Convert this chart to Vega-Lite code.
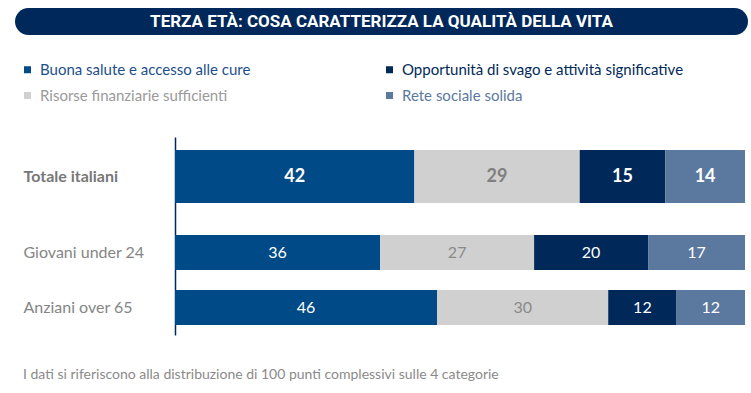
{
  "$schema": "https://vega.github.io/schema/vega-lite/v6.json",
  "padding": {"left": 15, "top": 8, "right": 3, "bottom": 0},
  "background": "white",
  "config": {"view": {"stroke": null}, "font": "Lato"},
  "spacing": 102,
  "vconcat": [
    {
      "width": 733,
      "height": 27,
      "view": {"fill": "#00285a", "cornerRadius": 13.5, "stroke": null},
      "data": {"values": [{"t": "TERZA ETÀ: COSA CARATTERIZZA LA QUALITÀ DELLA VITA"}]},
      "mark": {"type": "text", "color": "white", "font": "Roboto", "fontSize": 17, "fontWeight": "bold", "align": "center", "baseline": "middle"},
      "encoding": {"text": {"field": "t", "type": "nominal"}}
    },
    {
      "width": 733,
      "height": 198,
      "title": {
        "text": "I dati si riferiscono alla distribuzione di 100 punti complessivi sulle 4 categorie",
        "orient": "bottom",
        "anchor": "start",
        "frame": "bounds",
        "font": "Lato",
        "fontSize": 14,
        "fontWeight": "normal",
        "color": "#8a8a8a",
        "offset": 33,
        "dx": 8
      },
      "data": {
        "values": [
          {"group": "Totale italiani", "cat": "Buona salute e accesso alle cure", "v": 42},
          {"group": "Totale italiani", "cat": "Risorse finanziarie sufficienti", "v": 29},
          {"group": "Totale italiani", "cat": "Opportunità di svago e attività significative", "v": 15},
          {"group": "Totale italiani", "cat": "Rete sociale solida", "v": 14},
          {"group": "Giovani under 24", "cat": "Buona salute e accesso alle cure", "v": 36},
          {"group": "Giovani under 24", "cat": "Risorse finanziarie sufficienti", "v": 27},
          {"group": "Giovani under 24", "cat": "Opportunità di svago e attività significative", "v": 20},
          {"group": "Giovani under 24", "cat": "Rete sociale solida", "v": 17},
          {"group": "Anziani over 65", "cat": "Buona salute e accesso alle cure", "v": 46},
          {"group": "Anziani over 65", "cat": "Risorse finanziarie sufficienti", "v": 30},
          {"group": "Anziani over 65", "cat": "Opportunità di svago e attività significative", "v": 12},
          {"group": "Anziani over 65", "cat": "Rete sociale solida", "v": 12}
        ]
      },
      "transform": [
        {"calculate": "indexof(['Buona salute e accesso alle cure','Risorse finanziarie sufficienti','Opportunità di svago e attività significative','Rete sociale solida'], datum.cat)", "as": "k"},
        {"stack": "v", "groupby": ["group"], "sort": [{"field": "k", "order": "ascending"}], "as": ["v0", "v1"]},
        {"calculate": "(datum.v0 + datum.v1) / 2", "as": "mid"}
      ],
      "encoding": {
        "y": {
          "field": "group",
          "type": "nominal",
          "sort": ["Totale italiani", "Giovani under 24", "Anziani over 65"],
          "scale": {"paddingInner": 0, "paddingOuter": 0.3, "align": 1},
          "axis": {
            "title": null,
            "ticks": false,
            "offset": -160,
            "domainColor": "#00285a",
            "domainWidth": 1.5,
            "labelAlign": "left",
            "labelPadding": 152,
            "labelFont": "Lato",
            "labelFontSize": 16,
            "labelLimit": 200,
            "labelColor": {"condition": {"test": "datum.value === 'Totale italiani'", "value": "#777777"}, "value": "#858585"},
            "labelFontWeight": {"condition": {"test": "datum.value === 'Totale italiani'", "value": "bold"}, "value": "normal"},
            "labelOffset": {"condition": {"test": "datum.value === 'Totale italiani'", "value": -21}, "value": 0}
          }
        }
      },
      "layer": [
        {
          "transform": [{"filter": "datum.group === 'Totale italiani'"}],
          "mark": {"type": "bar", "size": 53, "yOffset": -21},
          "encoding": {
            "x": {"field": "v0", "type": "quantitative", "scale": {"domain": [0, 100], "nice": false, "range": [160, 730]}, "axis": null},
            "x2": {"field": "v1"},
            "color": {
              "field": "cat",
              "type": "nominal",
              "scale": {
                "domain": ["Buona salute e accesso alle cure", "Risorse finanziarie sufficienti", "Opportunità di svago e attività significative", "Rete sociale solida"],
                "range": ["#004a87", "#d0d0d0", "#00295a", "#5b799f"]
              },
              "legend": {
                "orient": "none",
                "legendX": 5,
                "legendY": 54,
                "columns": 2,
                "title": null,
                "symbolType": "square",
                "symbolSize": 49,
                "symbolStrokeWidth": 0,
                "symbolOpacity": 1,
                "labelFont": "Lato",
                "labelFontSize": 15,
                "labelOffset": 5,
                "labelLimit": 400,
                "columnPadding": 131,
                "rowPadding": 10,
                "labelColor": {"expr": "datum.label === 'Buona salute e accesso alle cure' ? '#1d4f8c' : datum.label === 'Risorse finanziarie sufficienti' ? '#9a9a9a' : datum.label === 'Rete sociale solida' ? '#5b799f' : '#00295a'"}
              }
            }
          }
        },
        {
          "transform": [{"filter": "datum.group !== 'Totale italiani'"}],
          "mark": {"type": "bar", "size": 35},
          "encoding": {
            "x": {"field": "v0", "type": "quantitative"},
            "x2": {"field": "v1"},
            "color": {"field": "cat", "type": "nominal"}
          }
        },
        {
          "transform": [{"filter": "datum.group === 'Totale italiani'"}],
          "mark": {"type": "text", "yOffset": -21, "font": "Lato", "fontSize": 18, "fontWeight": "bold", "align": "center", "baseline": "middle"},
          "encoding": {
            "x": {"field": "mid", "type": "quantitative"},
            "text": {"field": "v", "type": "quantitative"},
            "color": {"condition": {"test": "datum.cat === 'Risorse finanziarie sufficienti'", "value": "#808080"}, "value": "white"}
          }
        },
        {
          "transform": [{"filter": "datum.group !== 'Totale italiani'"}],
          "mark": {"type": "text", "font": "Lato", "fontSize": 16, "align": "center", "baseline": "middle"},
          "encoding": {
            "x": {"field": "mid", "type": "quantitative"},
            "text": {"field": "v", "type": "quantitative"},
            "color": {"condition": {"test": "datum.cat === 'Risorse finanziarie sufficienti'", "value": "#8a8a8a"}, "value": "white"}
          }
        }
      ]
    }
  ]
}
